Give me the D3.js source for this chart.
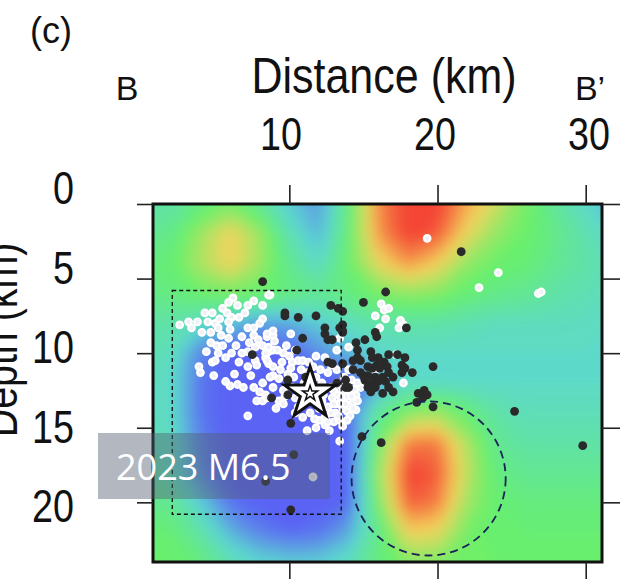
<!DOCTYPE html>
<html>
<head>
<meta charset="utf-8">
<script src="https://cdn.jsdelivr.net/npm/d3@7"></script>
<style>
  html, body { margin: 0; padding: 0; background: #fff; }
  svg { display: block; }
</style>
</head>
<body>
<div id="chart"></div>
<script>
// --------------------------------------
//  Data
// --------------------------------------

const gridX = [0, 2, 4, 6, 8, 10, 12, 14, 16, 18, 20, 22, 24, 26, 28, 30, 32];
const gridDepth = [-2, 0, 2, 4, 6, 8, 10, 12, 14, 16, 18, 20, 22, 24, 26];
const anomaly = [
  [-0.3, -0.3, -0.1, 0.05, -0.2, -0.55, -0.75, -0.1, 0.75, 1.0, 1.0, 0.65, 0.35, 0.05, -0.25, -0.45, -0.75],
  [-0.3, -0.3, -0.1, 0.05, -0.2, -0.55, -0.75, -0.1, 0.75, 1.0, 1.0, 0.65, 0.35, 0.05, -0.25, -0.45, -0.75],
  [-0.2, -0.15, 0.2, 0.5, 0.2, -0.35, -0.65, -0.05, 0.7, 1.0, 0.9, 0.45, 0.15, 0.0, -0.15, -0.35, -0.5],
  [-0.1, -0.05, 0.25, 0.5, 0.2, -0.2, -0.45, 0.0, 0.45, 0.7, 0.5, 0.15, 0.0, -0.05, -0.2, -0.3, -0.4],
  [-0.15, -0.1, 0.0, 0.05, 0.0, -0.1, -0.2, -0.1, 0.05, 0.15, 0.1, -0.05, -0.15, -0.2, -0.3, -0.35, -0.4],
  [-0.3, -0.3, -0.45, -0.6, -0.75, -0.7, -0.55, -0.4, -0.3, -0.3, -0.3, -0.35, -0.4, -0.4, -0.4, -0.42, -0.45],
  [-0.35, -0.4, -0.85, -1, -1, -1, -0.8, -0.65, -0.5, -0.45, -0.45, -0.45, -0.45, -0.45, -0.45, -0.45, -0.45],
  [-0.4, -0.45, -0.9, -1, -1, -1, -1, -0.95, -0.7, -0.45, -0.45, -0.45, -0.45, -0.45, -0.45, -0.45, -0.45],
  [-0.4, -0.45, -0.9, -1, -1, -1, -1, -0.95, -0.2, 0.1, 0.2, -0.05, -0.3, -0.38, -0.38, -0.38, -0.38],
  [-0.4, -0.4, -0.85, -1, -1, -1, -1, -1, 0.0, 0.8, 0.8, 0.25, -0.2, -0.3, -0.3, -0.3, -0.3],
  [-0.3, -0.35, -0.8, -1, -1, -1, -1, -1, 0.15, 1.0, 0.9, 0.3, -0.1, -0.2, -0.2, -0.2, -0.2],
  [-0.15, -0.2, -0.55, -0.9, -1, -1, -1, -0.95, 0.05, 0.9, 0.8, 0.2, -0.05, -0.1, -0.1, -0.1, -0.1],
  [-0.05, -0.05, -0.3, -0.65, -0.85, -0.95, -0.9, -0.7, -0.15, 0.5, 0.45, 0.05, -0.05, -0.05, -0.05, -0.05, -0.05],
  [0.0, 0.0, -0.1, -0.35, -0.5, -0.55, -0.55, -0.4, -0.1, 0.1, 0.1, 0.0, 0.0, 0.0, 0.0, 0.0, 0.0],
  [0.0, 0.0, -0.1, -0.35, -0.5, -0.55, -0.55, -0.4, -0.1, 0.1, 0.1, 0.0, 0.0, 0.0, 0.0, 0.0, 0.0]
];

// hypocentres [distance km, depth km]
const whiteQuakes = [
  [6.2,6.3],[5.5,7.0],[6.5,6.8],[7.2,6.8],[8.2,6.8],[8.7,6.1],[4.8,7.3],[5.8,7.3],[6.1,7.6],[2.6,8.1],
  [3.4,8.3],[3.8,7.9],[4.1,8.6],[4.5,7.9],[5.0,8.0],[5.2,8.3],[4.7,8.6],[5.3,7.7],[5.9,7.9],[8.2,7.7],
  [7.2,8.3],[7.6,8.3],[6.8,8.9],[7.6,8.8],[7.9,9.1],[8.5,8.9],[8.9,8.8],[4.7,9.3],[5.1,9.5],[5.5,9.5],
  [7.7,9.6],[8.2,9.5],[8.6,9.9],[8.9,9.8],[5.2,10.0],[5.7,10.3],[6.1,10.0],[6.8,10.0],[7.2,9.9],[8.4,10.3],
  [4.8,10.6],[5.0,10.5],[7.7,10.5],[8.6,10.7],[7.2,10.9],[7.8,10.8],[3.9,10.9],[4.0,11.3],[4.9,11.5],[5.7,11.9],
  [6.5,12.1],[6.9,12.3],[7.6,12.3],[8.0,12.6],[8.4,12.8],[7.8,13.2],[8.2,13.2],[7.2,14.2],[8.9,11.5],[8.9,12.3],
  [10.1,8.7],[8.9,8.5],[8.6,9.6],[8.4,10.0],[9.2,9.8],[9.6,10.0],[10.2,10.6],[10.6,10.5],[10.9,10.5],[8.5,10.5],
  [8.9,10.9],[9.4,11.1],[10.1,11.0],[8.7,11.6],[9.3,11.7],[8.2,12.0],[9.6,12.5],[8.5,13.0],[9.3,13.2],[9.6,13.4],
  [11.3,10.6],[11.6,10.9],[12.1,11.1],[12.6,11.3],[12.8,10.8],[13.2,11.1],[13.2,12.0],[13.0,12.5],[13.6,12.5],[12.9,13.0],
  [13.2,13.4],[12.6,13.6],[12.0,13.7],[11.4,14.0],[10.9,14.3],[10.4,14.0],[12.4,14.3],[13.1,14.0],[11.2,15.2],[12.4,14.8],
  [13.4,15.9],[8.5,8.7],[13.2,9.8],[11.8,11.6],
  [16.4,7.1],[16.7,7.0],[15.8,7.5],[16.5,7.7],[16.1,8.3],[17.5,7.8],[17.7,8.1],[17.4,8.3],[14.0,9.6],[13.4,9.0],
  [17.2,10.1],[16.3,10.8],[14.0,11.1],[15.8,11.1],[17.7,12.0],[14.8,12.3],[14.0,12.6],[14.5,12.8],[13.3,12.8],[14.3,13.3],
  [14.5,13.8],[13.6,13.7],
  [19.3,2.3],[24.1,4.6],[22.8,5.6],[26.8,6.0],[27.0,5.9],[16.2,6.7],[8.6,6.1],[11.6,18.3],
  [11.0,12.0],[11.5,12.2],[12.2,12.0],[12.8,12.3],[13.5,13.0],[13.8,12.2],[12.0,14.5],[13.0,14.6],[11.8,15.0],[10.6,13.6],
  [10.2,12.3],[13.9,13.9],[13.4,14.5],[12.7,15.2],[10.3,11.6],[9.9,11.4],[11.2,11.3],[13.7,11.6],[14.2,11.8],[12.4,10.3],
  [11.8,10.2],[9.8,9.5],[10.4,9.8],[9.0,9.2],[7.3,9.3],[6.4,9.5],[6.0,8.4],[5.4,8.8],[6.6,7.6],[7.0,7.3],
  [3.2,7.9],[4.3,7.3],[5.9,6.6],[7.6,6.5],[4.4,9.9],[6.3,11.4],[6.0,12.2],[9.7,12.9],[10.4,13.0],[9.1,13.7],
  [13.9,12.9],[14.1,14.2],[12.8,14.0],[13.6,14.9],[14.4,12.4],[12.3,12.8],[14.6,13.2],
  [13.3,14.2],[13.8,13.4],[14.2,12.9],[13.0,13.4],[12.6,14.6],[13.9,14.5],[14.3,13.7],[12.2,13.2],[13.5,12.2],[14.6,12.0],
  [10.8,11.1],[11.5,11.6],[9.5,10.6],[10.0,10.2],[7.4,11.5],[6.6,10.6],[5.9,9.0],[8.0,8.0],[10.8,13.2],[11.7,14.4]
];

const blackQuakes = [
  [7.5,10.1],[8.8,13.0],[12.8,6.8],[13.3,7.0],[9.7,7.3],[9.7,7.5],[10.6,7.6],[11.8,7.5],[13.4,8.3],[12.4,8.3],
  [12.4,8.7],[12.9,9.1],[10.9,9.0],[13.6,8.6],[12.6,9.1],[10.5,9.8],[12.6,10.6],[12.9,10.7],[13.6,10.7],[11.1,11.6],
  [9.9,11.8],[13.8,11.8],[13.8,12.3],[9.9,12.8],[10.1,14.7],[15.0,6.6],[13.6,7.2],[13.6,8.1],[13.6,8.5],[15.8,8.6],
  [15.9,8.9],[17.9,8.3],[15.1,9.1],[14.5,9.3],[14.6,9.8],[15.5,9.9],[14.6,10.3],[14.3,10.5],[14.8,10.5],[15.6,10.3],
  [16.0,10.3],[16.4,10.6],[16.7,10.1],[17.3,10.1],[17.8,10.3],[15.3,10.9],[15.6,11.0],[15.9,10.8],[16.1,11.0],[16.6,10.9],
  [16.7,11.3],[17.6,10.8],[17.8,11.0],[18.3,11.3],[17.6,11.3],[19.7,10.9],[14.3,11.1],[14.8,11.3],[15.0,11.5],[15.3,11.5],
  [15.8,11.6],[16.3,11.6],[15.1,11.8],[15.6,12.0],[16.0,11.9],[16.5,11.9],[17.0,11.6],[15.3,12.3],[15.8,12.3],[16.7,12.3],
  [17.0,12.6],[16.3,12.7],[15.5,12.6],[14.0,12.3],[13.2,12.0],[18.7,12.7],[19.1,12.5],[19.3,12.8],[19.0,13.0],[18.6,13.3],
  [19.7,13.6],[21.6,3.2],[16.5,5.9],[25.2,13.9],[29.8,16.2],[14.9,15.6],[16.2,16.0],[8.2,5.2],[10.3,16.8],[8.4,18.6],
  [10.1,20.5]
];

const mainshock = [11.4, 12.7];
const boxArea = {x0: 2.1, x1: 13.5, d0: 5.8, d1: 20.8};
const circleArea = {x: 19.4, d: 18.4, r: 5.2};

const xTicks = [10, 20, 30];
const yTicks = [0, 5, 10, 15, 20];

// --------------------------------------
//  Canvas
// --------------------------------------

const width = 635;
const height = 579;
const frame = {left: 153, right: 602, top: 204, bottom: 562};

const svg = d3.select("#chart")
  .append("svg")
    .attr("width", width)
    .attr("height", height);

const x = d3.scaleLinear().domain([0.8, 31.1]).range([frame.left, frame.right]);
const y = d3.scaleLinear().domain([0, 24]).range([frame.top, frame.bottom]);

// labels in the figure sit on a slightly stretched spacing
const xLabel = d3.scaleLinear().domain([10, 30]).range([281, 589]);
const yLabel = d3.scaleLinear().domain([0, 20]).range([188, 506]);

const color = d3.scaleLinear()
    .domain([-1, -0.5, 0, 0.5, 1])
    .range(["#5a5ef6", "#5cd8d0", "#68f06a", "#f4d45c", "#f43c32"])
    .clamp(true);

const defs = svg.append("defs");
defs.append("clipPath").attr("id", "plotclip")
  .append("rect")
    .attr("x", frame.left).attr("y", frame.top)
    .attr("width", frame.right - frame.left)
    .attr("height", frame.bottom - frame.top);
defs.append("filter").attr("id", "soft")
    .attr("x", "-10%").attr("y", "-10%").attr("width", "120%").attr("height", "120%")
  .append("feGaussianBlur").attr("stdDeviation", 7);

// --------------------------------------
//  Velocity field
// --------------------------------------

const nx = gridX.length, ny = gridDepth.length;
const thresholds = d3.range(-1.05, 1.06, 0.05);
const bands = d3.contours().size([nx, ny]).thresholds(thresholds)(anomaly.flat());

const gx = d3.scaleLinear().domain([0.5, nx - 0.5]).range([x(gridX[0]), x(gridX[nx - 1])]);
const gy = d3.scaleLinear().domain([0.5, ny - 0.5]).range([y(gridDepth[0]), y(gridDepth[ny - 1])]);
const gridPath = d3.geoPath(d3.geoTransform({
  point(px, py) { this.stream.point(gx(px), gy(py)); }
}));

svg.append("g")
    .attr("clip-path", "url(#plotclip)")
  .append("g")
    .attr("filter", "url(#soft)")
  .selectAll("path")
  .data(bands)
  .join("path")
    .attr("d", gridPath)
    .attr("fill", d => color(d.value + 0.025));

// --------------------------------------
//  Seismicity
// --------------------------------------

const plot = svg.append("g").attr("clip-path", "url(#plotclip)");

plot.selectAll(".wq")
  .data(whiteQuakes)
  .join("circle")
    .attr("class", "wq")
    .attr("cx", d => x(d[0]))
    .attr("cy", d => y(d[1]))
    .attr("r", 3.3)
    .attr("fill", "#f0f0f8")
    .attr("stroke", "#ffffff")
    .attr("stroke-width", 2.2);

plot.selectAll(".bq")
  .data(blackQuakes)
  .join("circle")
    .attr("class", "bq")
    .attr("cx", d => x(d[0]))
    .attr("cy", d => y(d[1]))
    .attr("r", 4.4)
    .attr("fill", "#2a2a2a");

// dashed outlines
plot.append("rect")
    .attr("x", x(boxArea.x0))
    .attr("y", y(boxArea.d0))
    .attr("width", x(boxArea.x1) - x(boxArea.x0))
    .attr("height", y(boxArea.d1) - y(boxArea.d0))
    .attr("fill", "none")
    .attr("stroke", "#111")
    .attr("stroke-width", 1.3)
    .attr("stroke-dasharray", "4,3");

plot.append("circle")
    .attr("cx", x(circleArea.x))
    .attr("cy", y(circleArea.d))
    .attr("r", x(circleArea.r) - x(0))
    .attr("fill", "none")
    .attr("stroke", "#1b2058")
    .attr("stroke-width", 1.8)
    .attr("stroke-dasharray", "8,5");

// mainshock star
const star = plot.append("g")
    .attr("transform", `translate(${x(mainshock[0])}, ${y(mainshock[1])})`);
star.append("path")
    .attr("d", d3.symbol(d3.symbolStar, 27 * 27 / 0.8908))
    .attr("fill", "#fff")
    .attr("stroke", "#111")
    .attr("stroke-width", 3);
star.append("path")
    .attr("d", d3.symbol(d3.symbolStar, 8 * 8 / 0.8908))
    .attr("fill", "#fff")
    .attr("stroke", "#111")
    .attr("stroke-width", 1.5);

// --------------------------------------
//  Frame and axes
// --------------------------------------

svg.append("rect")
    .attr("x", frame.left).attr("y", frame.top)
    .attr("width", frame.right - frame.left)
    .attr("height", frame.bottom - frame.top)
    .attr("fill", "none")
    .attr("stroke", "#111")
    .attr("stroke-width", 3);

function cleanAxis(g) {
  g.select(".domain").remove();
  g.selectAll(".tick line").attr("stroke", "#222").attr("stroke-width", 1.6);
  g.selectAll(".tick text").remove();
}

svg.append("g").attr("transform", `translate(${frame.left}, 0)`)
    .call(d3.axisLeft(y).tickValues(yTicks).tickSize(16)).call(cleanAxis);
svg.append("g").attr("transform", `translate(${frame.right}, 0)`)
    .call(d3.axisRight(y).tickValues(yTicks).tickSize(18)).call(cleanAxis);
svg.append("g").attr("transform", `translate(0, ${frame.top})`)
    .call(d3.axisTop(x).tickValues(xTicks).tickSize(19)).call(cleanAxis);
svg.append("g").attr("transform", `translate(0, ${frame.bottom})`)
    .call(d3.axisBottom(x).tickValues(xTicks).tickSize(18)).call(cleanAxis);

// --------------------------------------
//  Text
// --------------------------------------

const narrow = "Liberation Sans, Arial, sans-serif";

function addText(px, py, txt, size, anchor, sx, rot) {
  return svg.append("text")
      .attr("transform", `translate(${px}, ${py}) rotate(${rot || 0}) scale(${sx}, 1)`)
      .attr("text-anchor", anchor)
      .attr("font-family", narrow)
      .attr("font-size", size)
      .attr("fill", "#111")
      .text(txt);
}

xTicks.forEach(t => addText(xLabel(t), 150, t, 46, "middle", 0.82));
yTicks.forEach(t => addText(74, yLabel(t) + 16, t, 46, "end", 0.82));

addText(384, 93, "Distance (km)", 50, "middle", 0.86);
// axis title sits partly outside the figure, as in the original
addText(17, 340, "Depth (km)", 48, "middle", 0.82, -90);
addText(127, 100, "B", 34, "middle", 1);
addText(590, 100, "B\u2019", 34, "middle", 1);
addText(51, 43, "(c)", 36, "middle", 1);

// event label
svg.append("rect")
    .attr("x", 98).attr("y", 433)
    .attr("width", 232).attr("height", 66)
    .attr("fill", "rgb(82, 94, 112)")
    .attr("fill-opacity", 0.44);

svg.append("text")
    .attr("x", 116).attr("y", 480)
    .attr("font-family", "Open Sans, Noto Sans, sans-serif")
    .attr("font-size", 36)
    .attr("fill", "#fff")
    .text("2023 M6.5");
</script>
</body>
</html>
